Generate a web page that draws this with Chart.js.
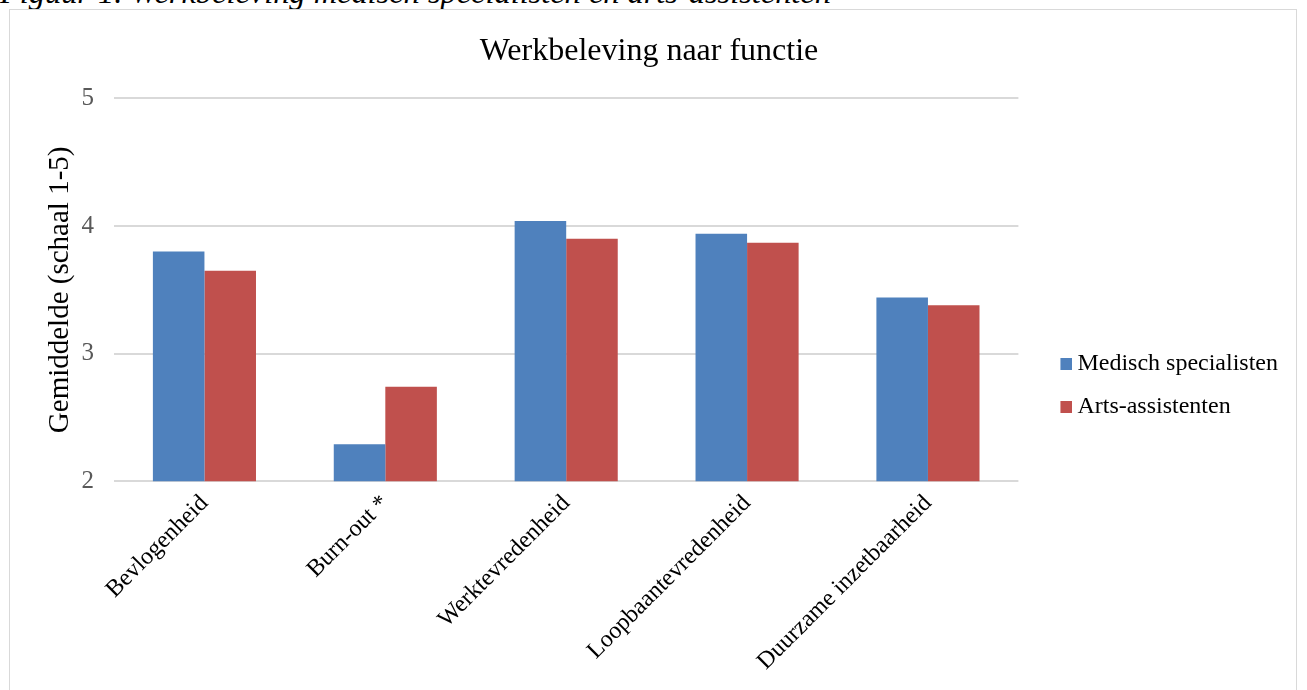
<!DOCTYPE html>
<html>
<head>
<meta charset="utf-8">
<script src="https://cdn.jsdelivr.net/npm/chart.js@4/dist/chart.umd.min.js"></script>
<style>
  body { margin: 0; background: #fff; overflow: hidden; }
  #caption {
    position: absolute; left: 0; top: -26px;
    font: italic 32.4px "Liberation Serif", serif; color: #000; white-space: nowrap;
  }
  #frame {
    position: absolute; left: 9px; top: 9px; width: 1286px; height: 690px;
    border: 1px solid #d9d9d9; background: #fff;
  }
  #frame canvas { display: block; }
</style>
</head>
<body>
<div id="caption">Figuur 1. Werkbeleving medisch specialisten en arts-assistenten</div>
<div id="frame"><canvas id="myChart" width="1286" height="681"></canvas></div>
<script>
var categories = ["Bevlogenheid", "Burn-out *", "Werktevredenheid", "Loopbaantevredenheid", "Duurzame inzetbaarheid"]
var specialisten = [3.80, 2.29, 4.04, 3.94, 3.44]
var assistenten = [3.65, 2.74, 3.90, 3.87, 3.38]
var yTicks = [2, 3, 4, 5]
var colors = ["#4f81bd", "#c0504d"]

var serif = "'Liberation Serif', 'Times New Roman', serif"

// legend swatch: a 12px square sitting on the right side of a wider image,
// so the square ends up closer to its text like in the original
function swatch(color) {
  var c = document.createElement("canvas")
  c.width = 42
  c.height = 12
  var ctx = c.getContext("2d")
  ctx.fillStyle = color
  ctx.fillRect(30, 0, 12, 12)
  return c
}

var chart = new Chart("myChart", {
  type: "bar",
  data: {
    labels: categories,
    datasets: [{
      label: "Medisch specialisten",
      data: specialisten,
      backgroundColor: colors[0],
      borderWidth: 0
    }, {
      label: "Arts-assistenten",
      data: assistenten,
      backgroundColor: colors[1],
      borderWidth: 0
    }]
  },
  options: {
    responsive: false,
    animation: false,
    layout: { padding: { left: 0, right: 8, top: 0, bottom: 15 } },
    datasets: { bar: { barPercentage: 1, categoryPercentage: 0.57 } },
    plugins: {
      title: {
        display: true,
        text: "Werkbeleving naar functie",
        color: "#000",
        font: { family: serif, size: 32, weight: "normal" },
        padding: { top: 22, bottom: 28 }
      },
      legend: {
        position: "right",
        // empty legend title only pushes the items down a little
        title: { display: true, text: " ", font: { size: 10 }, padding: 36 },
        labels: {
          color: "#000",
          font: { family: serif, size: 24 },
          usePointStyle: true,
          pointStyleWidth: 28,
          boxHeight: 12,
          padding: 19,
          generateLabels: function(chart) {
            var items = Chart.defaults.plugins.legend.labels.generateLabels(chart)
            items.forEach(function(item, i) { item.pointStyle = swatch(colors[i]) })
            return items
          }
        }
      },
      tooltip: { enabled: false }
    },
    scales: {
      x: {
        grid: { display: false },
        border: { display: false },
        ticks: {
          color: "#000",
          font: { family: serif, size: 24 },
          maxRotation: 45,
          minRotation: 45,
          padding: 0
        }
      },
      y: {
        min: yTicks[0],
        max: yTicks[yTicks.length - 1],
        afterBuildTicks: function(axis) {
          axis.ticks = yTicks.map(function(v) { return { value: v } })
        },
        afterFit: function(scale) {
          scale.width = 104
        },
        grid: { color: "#d9d9d9", lineWidth: 2, drawTicks: false },
        border: { display: false },
        ticks: {
          color: "#595959",
          font: { family: serif, size: 25 },
          padding: 20
        },
        title: {
          display: true,
          text: "Gemiddelde (schaal 1-5)",
          color: "#000",
          font: { family: serif, size: 29 },
          padding: { top: 33, bottom: 3 }
        }
      }
    }
  }
})
</script>
</body>
</html>
